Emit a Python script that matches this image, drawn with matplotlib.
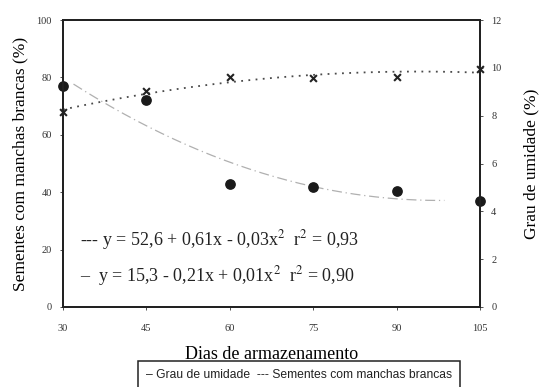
import numpy as np
import matplotlib.pyplot as plt
from matplotlib.patches import Rectangle

dias = [30, 45, 60, 75, 90, 105]
manchas = [77, 72, 43, 41.7, 40.4, 36.8]      # Sementes com manchas brancas (%)
umidade = [8.14, 9.04, 9.6, 9.57, 9.63, 9.95]  # Grau de umidade (%)

eq1 = "--- y = 52,6 + 0,61x - 0,03x$^2$  r$^2$ = 0,93"
eq2 = "\u2013  y = 15,3 - 0,21x + 0,01x$^2$  r$^2$ = 0,90"

plt.rcParams["font.family"] = ["Liberation Serif", "DejaVu Serif"]
plt.rcParams["mathtext.fontset"] = "stix"


def plotDraw():
    fig = plt.figure(figsize=(5.48, 3.87), dpi=100)
    ax = fig.add_axes([0.115, 0.207, 0.761, 0.741])
    ax2 = ax.twinx()

    xs = np.linspace(30, 105, 200)
    c1 = np.polyfit(dias, manchas, 2)
    c2 = np.polyfit(dias, umidade, 2)

    ax.plot(xs[5:183], np.polyval(c1, xs[5:183]), color="#b0b0b0", lw=0.9,
            ls=(0, (8, 3, 1, 3)))
    ax.scatter(dias, manchas, s=45, color="#1a1a1a", zorder=5, clip_on=False)

    ax2.plot(xs, np.polyval(c2, xs), color="#4a4a4a", lw=1.3, ls=(0, (1, 3)))
    ax2.scatter(dias, umidade, marker="x", s=24, color="#222222", lw=1.5,
                zorder=5, clip_on=False)

    ax.set_xlim(30, 105)
    ax.set_ylim(0, 100)
    ax2.set_ylim(0, 12)
    ax.set_xticks(dias)
    ax.set_yticks([0, 20, 40, 60, 80, 100])
    ax2.set_yticks([0, 2, 4, 6, 8, 10, 12])

    for a in (ax, ax2):
        a.tick_params(labelsize=7.5, colors="#333333", length=2, width=0.6,
                      pad=6)
        for s in a.spines.values():
            s.set_color("#222222")
            s.set_linewidth(1.4)
    ax.tick_params(axis="x", pad=10)

    ax.set_xlabel("Dias de armazenamento", fontsize=13, labelpad=10)
    ax.set_ylabel("Sementes com manchas brancas (%)", fontsize=12.5, labelpad=6)
    ax2.set_ylabel("Grau de umidade (%)", fontsize=12.5, labelpad=16)

    ax.text(0.04, 0.215, eq1, transform=ax.transAxes, fontsize=13,
            color="#222222")
    ax.text(0.04, 0.09, eq2, transform=ax.transAxes, fontsize=13,
            color="#222222")

    # legend box drawn as plain text inside a frame, like the scanned figure
    fig.patches.append(Rectangle((138 / 548, -0.01), 322 / 548, 0.077,
                                 transform=fig.transFigure, fill=False,
                                 ec="#222222", lw=1.1))
    fig.text(0.545, 0.03,
             "\u2013 Grau de umidade  --- Sementes com manchas brancas",
             ha="center", va="center", fontsize=8.7,
             family=["Liberation Sans", "DejaVu Sans"], color="#222222")

    fig.savefig("out.png", dpi=100)


if __name__ == "__main__":
    plotDraw()
